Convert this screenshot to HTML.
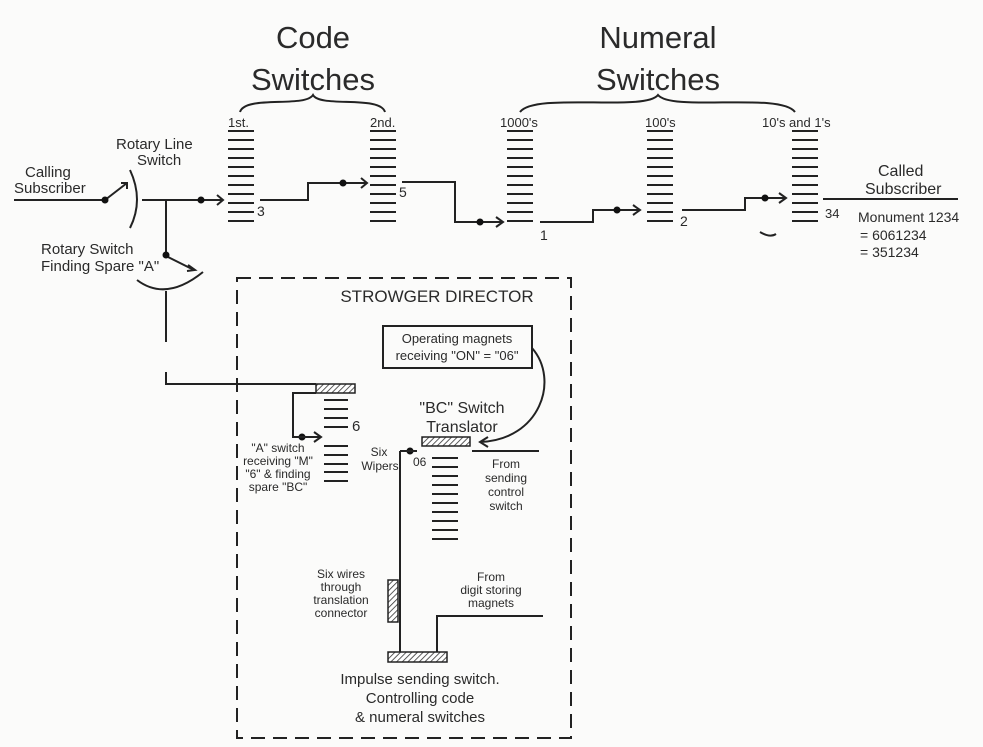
<!DOCTYPE html>
<html><head><meta charset="utf-8"><style>
body{margin:0;background:#fbfbfa;}
svg{display:block;font-family:"Liberation Sans",sans-serif;fill:#222;}
.l{stroke:#222;stroke-width:2;fill:none}
.t{fill:#2a2a2a}
</style></head><body>
<svg width="983" height="747" viewBox="0 0 983 747">
<defs>
<pattern id="h" width="4" height="4" patternUnits="userSpaceOnUse" patternTransform="rotate(45)"><rect width="4" height="4" fill="#fff"/><line x1="0" y1="0" x2="0" y2="4" stroke="#333" stroke-width="1.6"/></pattern>
<g id="bank"><path class="l" d="M0 0h26M0 9h26M0 18h26M0 27h26M0 36h26M0 45h26M0 54h26M0 63h26M0 72h26M0 81h26M0 90h26"/></g>
</defs>
<g class="t">
<text x="313" y="48" font-size="31" text-anchor="middle">Code</text>
<text x="313" y="90" font-size="31" text-anchor="middle">Switches</text>
<text x="658" y="48" font-size="31" text-anchor="middle">Numeral</text>
<text x="658" y="90" font-size="31" text-anchor="middle">Switches</text>
</g>
<path class="l" d="M240 112 C245 95,305 108,313 95 C320 108,380 95,385 112"/>
<path class="l" d="M520 112 C535 92,645 112,658 95 C672 112,780 92,795 112"/>
<g font-size="13" class="t">
<text x="228" y="127">1st.</text><text x="370" y="127">2nd.</text>
<text x="500" y="127">1000's</text><text x="645" y="127">100's</text>
<text x="762" y="127">10's and 1's</text>
<text x="116" y="149" font-size="15">Rotary Line</text><text x="137" y="165" font-size="15">Switch</text>
<text x="25" y="177" font-size="15">Calling</text><text x="14" y="193" font-size="15">Subscriber</text>
<text x="41" y="254" font-size="15">Rotary Switch</text><text x="41" y="271" font-size="15">Finding Spare "A"</text>
<text x="878" y="176" font-size="16">Called</text><text x="865" y="194" font-size="16">Subscriber</text>
<text x="858" y="222" font-size="14">Monument 1234</text>
<text x="860" y="240" font-size="14">= 6061234</text><text x="860" y="257" font-size="14">= 351234</text>
<text x="257" y="216" font-size="14">3</text><text x="399" y="197" font-size="14">5</text>
<text x="540" y="240" font-size="14">1</text><text x="680" y="226" font-size="14">2</text>
<text x="825" y="218" font-size="13">34</text>
</g>
<use href="#bank" x="228" y="131"/><use href="#bank" x="370" y="131"/>
<use href="#bank" x="507" y="131"/><use href="#bank" x="647" y="131"/><use href="#bank" x="792" y="131"/>
<path class="l" d="M14 200h91M105 200l22-17M121 183h6v6M130 170q14 30 0 58M142 200h80M217 195l6 5-6 5M166 200v56M166 256l28 14M188 265l7 5-8 1"/>
<path class="l" d="M260 200h48v-17h58M361 178l6 5-6 5M402 182h53v40h48M496 217l7 5-7 5M540 222h53v-12h47M633 205l7 5-7 5M682 210h63v-12h40M779 193l7 5-7 5M823 199h135"/>
<path class="l" d="M137 280q29 22 66-8M166 291v51M166 372v12h150"/>
<g fill="#111"><circle cx="105" cy="200" r="3.5"/><circle cx="201" cy="200" r="3.5"/><circle cx="166" cy="255" r="3.5"/><circle cx="343" cy="183" r="3.5"/><circle cx="480" cy="222" r="3.5"/><circle cx="617" cy="210" r="3.5"/><circle cx="765" cy="198" r="3.5"/><circle cx="302" cy="437" r="3.5"/><circle cx="410" cy="451" r="3.5"/></g>
<path d="M760 232q10 6 16 2" class="l" stroke-width="1.5"/>
<rect x="237" y="278" width="334" height="460" fill="none" stroke="#222" stroke-width="2" stroke-dasharray="14 8"/>
<text x="437" y="302" font-size="17" text-anchor="middle" class="t">STROWGER DIRECTOR</text>
<rect x="383" y="326" width="149" height="42" fill="none" stroke="#222" stroke-width="2"/>
<text x="457" y="343" font-size="13" text-anchor="middle" class="t">Operating magnets</text>
<text x="457" y="360" font-size="13" text-anchor="middle" class="t">receiving "ON" = "06"</text>
<path class="l" d="M532 348 C560 380,540 440,480 442M488 437l-8 5 8 5"/>
<rect x="316" y="384" width="39" height="9" fill="url(#h)" stroke="#222" stroke-width="1.5"/>
<path class="l" d="M316 393h-23v44h28M314 432l7 5-7 5"/>
<path class="l" d="M324 400h24M324 409h24M324 418h24M324 427h24M324 446h24M324 455h24M324 464h24M324 472h24M324 481h24"/>
<text x="352" y="431" font-size="15" class="t">6</text>
<text x="462" y="413" font-size="16" text-anchor="middle" class="t">"BC" Switch</text>
<text x="462" y="432" font-size="16" text-anchor="middle" class="t">Translator</text>
<g font-size="12" class="t" text-anchor="middle">
<text x="278" y="452">"A" switch</text><text x="278" y="465">receiving "M"</text><text x="278" y="478">"6" &amp; finding</text><text x="278" y="491">spare "BC"</text>
<text x="379" y="456">Six</text><text x="380" y="470">Wipers</text>
<text x="506" y="468">From</text><text x="506" y="482">sending</text><text x="506" y="496">control</text><text x="506" y="510">switch</text>
<text x="341" y="578">Six wires</text><text x="341" y="591">through</text><text x="341" y="604">translation</text><text x="341" y="617">connector</text>
<text x="491" y="581">From</text><text x="491" y="594">digit storing</text><text x="491" y="607">magnets</text>
</g>
<text x="413" y="466" font-size="12" class="t">06</text>
<rect x="422" y="437" width="48" height="9" fill="url(#h)" stroke="#222" stroke-width="1.5"/>
<path class="l" d="M472 451h67M400 451h17M400 451v201M437 652v-36h106"/>
<path class="l" d="M432 458h26M432 467h26M432 476h26M432 485h26M432 494h26M432 503h26M432 512h26M432 521h26M432 530h26M432 539h26"/>
<rect x="388" y="580" width="10" height="42" fill="url(#h)" stroke="#222" stroke-width="1.5"/>
<rect x="388" y="652" width="59" height="10" fill="url(#h)" stroke="#222" stroke-width="1.5"/>
<g font-size="15" class="t" text-anchor="middle">
<text x="420" y="684">Impulse sending switch.</text>
<text x="420" y="703">Controlling code</text>
<text x="420" y="722">&amp; numeral switches</text>
</g>
</svg>
</body></html>
